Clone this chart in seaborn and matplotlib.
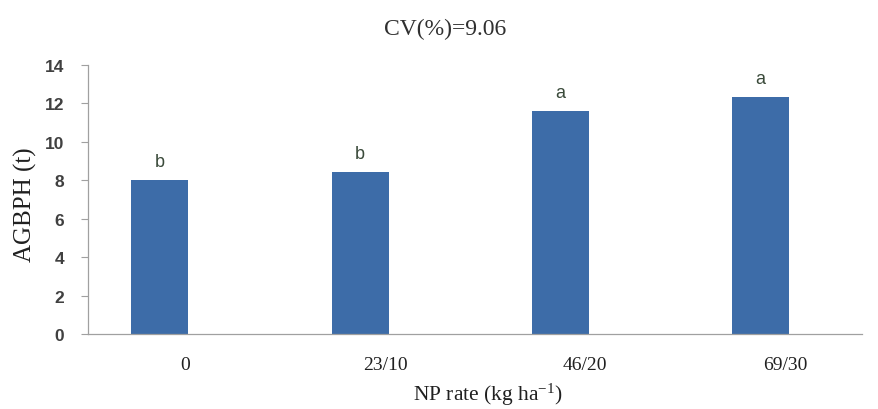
import matplotlib
matplotlib.use("Agg")
import matplotlib.pyplot as plt
import matplotlib.transforms as mtransforms
import seaborn as sns
import pandas as pd

categories = ["0", "23/10", "46/20", "69/30"]
values = [8.02, 8.42, 11.6, 12.32]
letters = ["b", "b", "a", "a"]
yticks = [0, 2, 4, 6, 8, 10, 12, 14]

sns.set_theme(style="white")
plt.rcParams['font.family'] = ['DejaVu Sans']
plt.rcParams['mathtext.fontset'] = 'custom'
plt.rcParams['mathtext.rm'] = 'Liberation Serif'
plt.rcParams['mathtext.it'] = 'Liberation Serif:italic'
plt.rcParams['mathtext.bf'] = 'Liberation Serif:bold'

df = pd.DataFrame({"NP": categories, "AGBPH": values})

fig = plt.figure(figsize=(8.79, 4.10), dpi=100)
ax = fig.add_axes([0.1001, 0.183, 0.8806, 0.656])

sns.barplot(data=df, x="NP", y="AGBPH", order=categories, color="#3d6ca8",
            width=0.285, saturation=1, ax=ax, edgecolor="none")

ax.set_xlim(-0.36, 3.51)
ax.set_ylim(0, 14)
ax.set_yticks(yticks)
ax.set_yticklabels([str(t) for t in yticks], fontfamily="Liberation Sans",
                   fontweight="bold", fontsize=12.5, color="#404040")
ax.tick_params(axis="y", which="major", direction="out", length=5, width=0.8,
               color="#a0a0a0", left=True, pad=12)
ax.tick_params(axis="x", length=0, pad=16)
ax.set_xticks(range(len(categories)))
ax.set_xticklabels(categories, fontfamily="Liberation Serif", fontsize=14, color="#202020")
offset = mtransforms.ScaledTranslation(0.25, 0, fig.dpi_scale_trans)
for lab in ax.get_xticklabels():
    lab.set_transform(lab.get_transform() + offset)

for s in ["top", "right"]:
    ax.spines[s].set_visible(False)
for s in ["left", "bottom"]:
    ax.spines[s].set_color("#a0a0a0")
    ax.spines[s].set_linewidth(0.9)

for i, (v, l) in enumerate(zip(values, letters)):
    ax.annotate(l, (i, v), xytext=(0, 10), textcoords="offset points",
                ha="center", va="baseline", fontsize=13, color="#3a4a3a",
                fontfamily="Liberation Sans")

ax.set_ylabel("AGBPH (t)", fontfamily="Liberation Serif", fontsize=18,
              color="#202020")
ax.yaxis.set_label_coords(-0.066, 0.483)
ax.set_xlabel(r"NP rate (kg ha$^{\mathrm{-1}}$)", fontfamily="Liberation Serif",
              fontsize=15.5, color="#202020")
ax.xaxis.set_label_coords(0.517, -0.175)
fig.text(0.506, 0.929, "CV(%)=9.06", ha="center", va="center",
         fontfamily="Liberation Serif", fontsize=17, color="#303030")

fig.savefig("out.png", dpi=100, facecolor="white")
